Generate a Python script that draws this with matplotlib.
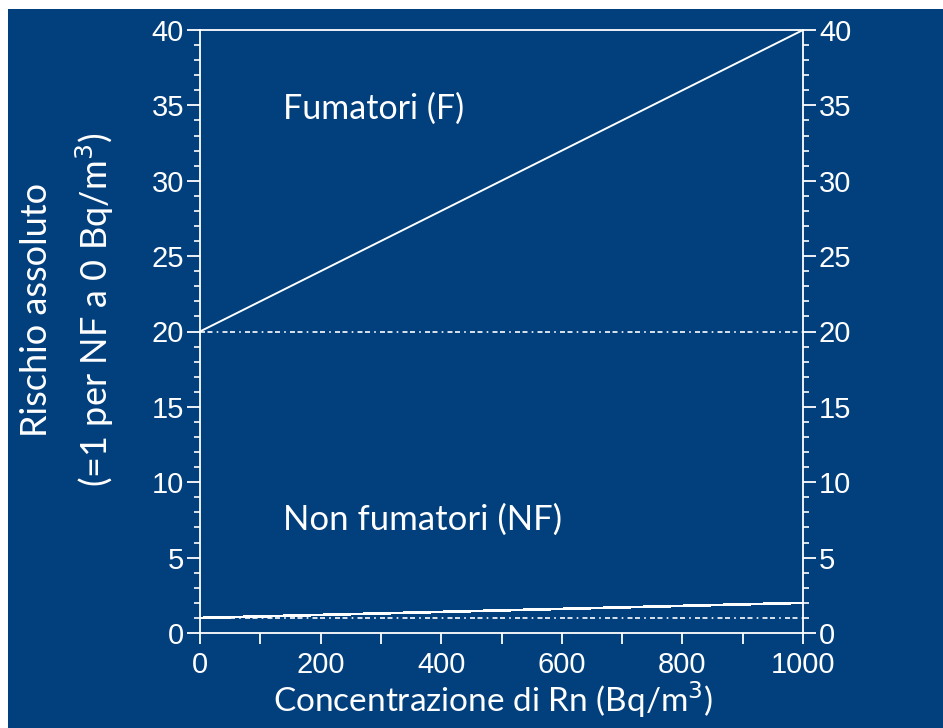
import matplotlib.pyplot as plt
from matplotlib.patches import Rectangle
from matplotlib.ticker import MultipleLocator

# Data
conc = [0, 1000]
risk_smokers = [20, 40]
risk_nonsmokers = [1, 2]
base_smokers = [20, 20]
base_nonsmokers = [1, 1]
x_ticks = [0, 200, 400, 600, 800, 1000]
y_ticks = [0, 5, 10, 15, 20, 25, 30, 35, 40]

BG = '#013f7d'
W, H = 943, 728
fig = plt.figure(figsize=(W / 100, H / 100), dpi=100, facecolor='white')
bg = Rectangle((8 / W, 0), 1, 1 - 9 / H, transform=fig.transFigure,
               facecolor=BG, edgecolor='none', zorder=-10)
fig.patches.append(bg)

ax = fig.add_axes([200 / W, 95 / H, 603 / W, 603 / H])
ax.set_zorder(5)
ax.set_facecolor(BG)
for s in ax.spines.values():
    s.set_color('white')
    s.set_linewidth(1.3)

dash = (0, (3, 1.5, 3, 2.5, 1, 2.5))
ax.plot(conc, base_smokers, color='white', lw=1.2, linestyle=dash)
ax.plot(conc, base_nonsmokers, color='white', lw=1.2, linestyle=dash)
ax.plot(conc, risk_smokers, color='white', lw=1.4, solid_capstyle='butt')
ax.plot(conc, risk_nonsmokers, color='white', lw=1.2, solid_capstyle='butt',
        antialiased=False)

ax.set_xlim(0, 1000)
ax.set_ylim(0, 40)
ax.set_xticks(x_ticks)
ax.set_yticks(y_ticks)
ax.xaxis.set_minor_locator(MultipleLocator(100))
ax.yaxis.set_minor_locator(MultipleLocator(1))

ax.tick_params(axis='x', which='both', direction='out', length=8, width=1.3,
               color='white', labelcolor='white', pad=5)
ax.tick_params(axis='y', which='major', direction='out', length=9.5, width=1.3,
               color='white', labelcolor='white', left=True, right=True,
               labelleft=True, labelright=True, pad=2)
ax.tick_params(axis='y', which='minor', direction='out', length=4, width=1.2,
               color='white', left=True, right=True)
for t in ax.xaxis.get_major_ticks() + ax.yaxis.get_major_ticks():
    for lab in (t.label1, t.label2):
        lab.set_fontfamily('Liberation Sans')
        lab.set_fontsize(21)
        lab.set_color('white')

lbl_font = 'Lato'
fig.text(493 / W, 1 - 700 / H, 'Concentrazione di Rn (Bq/m$^3$)', color='white',
         fontsize=24, family=lbl_font, ha='center', va='center')
fig.text(37 / W, 1 - 310 / H, 'Rischio assoluto', rotation=90, color='white',
         fontsize=26, family=lbl_font, ha='center', va='center')
fig.text(95 / W, 1 - 310 / H, '(=1 per NF a 0 Bq/m$^3$)', rotation=90, color='white',
         fontsize=26, family=lbl_font, ha='center', va='center')

ax.text(138, 34.8, 'Fumatori (F)', color='white', fontsize=24.5, family=lbl_font,
        ha='left', va='center')
ax.text(138, 7.5, 'Non fumatori (NF)', color='white', fontsize=25, family=lbl_font,
        ha='left', va='center')

fig.savefig('out.png', dpi=100, facecolor='white')
